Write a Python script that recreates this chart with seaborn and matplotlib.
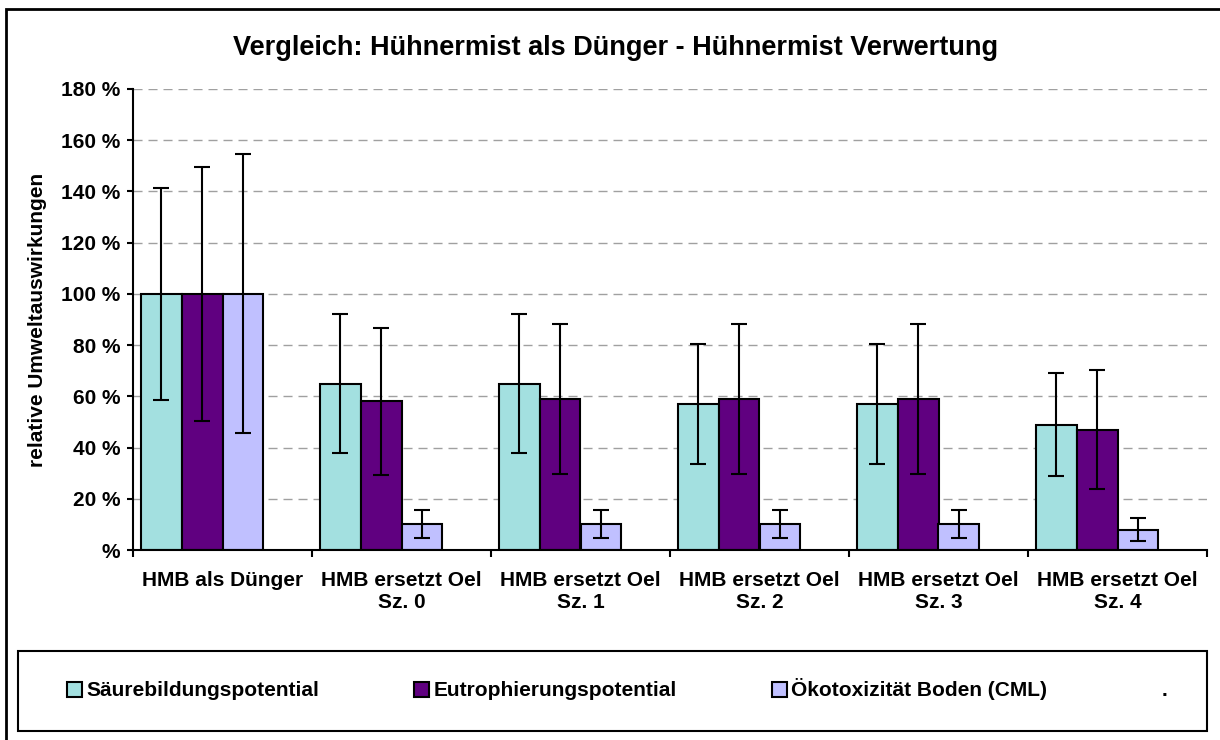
import numpy as np
import pandas as pd
import seaborn as sns
import matplotlib.pyplot as plt
from matplotlib.patches import Patch, Rectangle
from matplotlib.ticker import FuncFormatter

# daten
szenarien = ["HMB als Dünger", "HMB ersetzt Oel\nSz. 0", "HMB ersetzt Oel\nSz. 1",
             "HMB ersetzt Oel\nSz. 2", "HMB ersetzt Oel\nSz. 3", "HMB ersetzt Oel\nSz. 4"]
kategorien = ["Säurebildungspotential", "Eutrophierungspotential", "Ökotoxizität Boden (CML)", "."]
saeure = [100, 65, 65, 57, 57, 49]
saeure_err = [41.5, 27, 27, 23.5, 23.5, 20]
eutro = [100, 58, 59, 59, 59, 47]
eutro_err = [49.5, 28.7, 29.2, 29.2, 29.2, 23.3]
oeko = [100, 10, 10, 10, 10, 8]
oeko_err = [54.5, 5.5, 5.5, 5.5, 5.5, 4.3]
leer = [np.nan] * 6   # leere serie "." wie im excel-original
yticks = [0, 20, 40, 60, 80, 100, 120, 140, 160, 180]
farben = ["#A3E0E0", "#600080", "#C0C0FF", "#FFFFFF"]

werte = [saeure, eutro, oeko, leer]
fehler = [saeure_err, eutro_err, oeko_err]

df = pd.DataFrame({
    "Szenario": szenarien * 4,
    "Kategorie": np.repeat(kategorien, len(szenarien)),
    "Wert": np.concatenate(werte),
})

sns.set_style("white")
plt.rcParams["font.family"] = ["Liberation Sans", "DejaVu Sans"]
plt.rcParams["font.weight"] = "bold"
for k in ["text.color", "axes.labelcolor", "xtick.color", "ytick.color"]:
    plt.rcParams[k] = "black"

fig = plt.figure(figsize=(12.2, 7.4), dpi=100)
ax = fig.add_axes([133 / 1220, 1 - 550 / 740, (1207 - 133) / 1220, (550 - 89) / 740])

sns.barplot(data=df, x="Szenario", y="Wert", hue="Kategorie", hue_order=kategorien,
            order=szenarien, palette=farben, saturation=1, width=0.91, errorbar=None,
            edgecolor="black", linewidth=1.5, legend=False, ax=ax, zorder=2)

# fehlerbalken auf die balken setzen
for i in range(3):
    bars = sorted(ax.containers[i], key=lambda b: b.get_x())
    xs = [b.get_x() + b.get_width() / 2 for b in bars]
    ax.errorbar(xs, werte[i], yerr=fehler[i], fmt="none", ecolor="black",
                elinewidth=1.5, capsize=5.8, capthick=1.5, zorder=4)

ax.set_xlim(-0.5, len(szenarien) - 0.5)
ax.set_ylim(0, 180)
ax.set_yticks(yticks)
ax.yaxis.set_major_formatter(FuncFormatter(lambda v, p: f"{v:.0f} %" if v else "%"))
ax.yaxis.grid(True, color="#A0A0A0", linewidth=1, linestyle=(0, (6.5, 4.3)), zorder=0)
ax.xaxis.grid(False)
ax.set_axisbelow(True)

ax.set_xticks(np.arange(-0.5, len(szenarien)), minor=True)
ax.tick_params(axis="x", which="major", length=0, pad=15, labelsize=15)
ax.tick_params(axis="x", which="minor", length=5, width=1.5, direction="out", bottom=True)
ax.tick_params(axis="y", length=4.3, width=1.5, direction="out", left=True, pad=5, labelsize=15)
for t in ax.get_xticklabels() + ax.get_yticklabels():
    t.set_fontweight("bold")

ax.set_xlabel("")
ax.set_ylabel("relative Umweltauswirkungen", fontsize=15, fontweight="bold", labelpad=10)

for s in ["top", "right"]:
    ax.spines[s].set_visible(False)
for s in ["left", "bottom"]:
    ax.spines[s].set_color("black")
    ax.spines[s].set_linewidth(1.5)

fig.text(616 / 1220, 1 - 48 / 740, "Vergleich: Hühnermist als Dünger - Hühnermist Verwertung",
         ha="center", va="center", fontsize=19.5, fontweight="bold")

# legende mit rahmen
handles = [Patch(facecolor=c, edgecolor="black", linewidth=1.5) for c in farben[:3]]
handles.append(Patch(facecolor="none", edgecolor="none"))
fig.legend(handles, kategorien, loc="center left", bbox_to_anchor=(67 / 1220, 1 - 689.5 / 740),
           ncol=4, frameon=False, prop={"weight": "bold", "size": 15},
           handlelength=0.72, handleheight=0.72, handletextpad=0.2, columnspacing=4.57,
           borderpad=0, borderaxespad=0)

fig.patches.append(Rectangle((18 / 1220, 1 - 731 / 740), (1207 - 18) / 1220, 80 / 740,
                             transform=fig.transFigure, fill=False, edgecolor="black", linewidth=1.5))
fig.patches.append(Rectangle((6 / 1220, -0.05), 1.1, 1.05 - 9 / 740,
                             transform=fig.transFigure, fill=False, edgecolor="black", linewidth=2))

fig.savefig("out.png", dpi=100)
